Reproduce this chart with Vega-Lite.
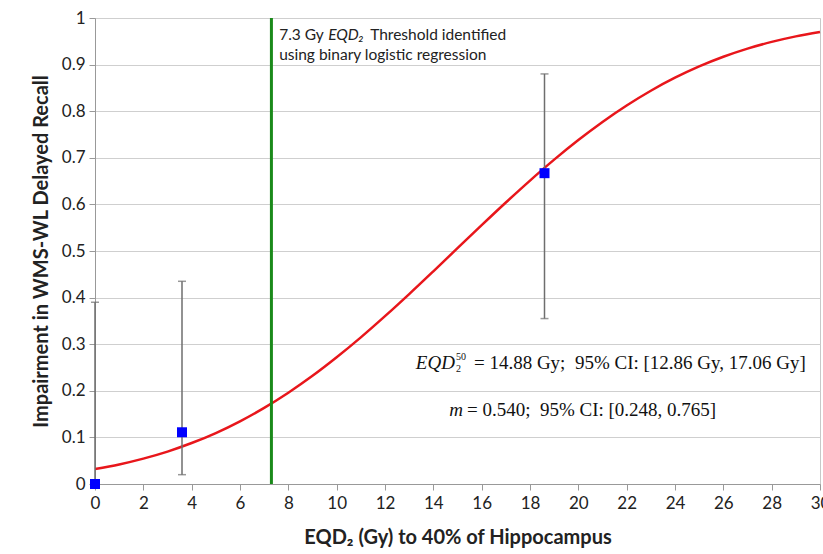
{
  "$schema": "https://vega.github.io/schema/vega-lite/v6.json",
  "autosize": {"type": "none"},
  "padding": {"left": 95, "top": 18, "right": 3, "bottom": 70},
  "width": 725,
  "height": 466,
  "background": "white",
  "config": {
    "view": {"stroke": "#c8c8c8"},
    "axis": {"labelFont": "Lato", "titleFont": "Lato", "labelColor": "#222", "titleColor": "#222", "domainColor": "#999", "tickColor": "#999"}
  },
  "datasets": {
    "curve": [
      {"x": 0, "p": 0.032}, {"x": 1, "p": 0.042}, {"x": 2, "p": 0.0545}, {"x": 3, "p": 0.0696},
      {"x": 4, "p": 0.0879}, {"x": 5, "p": 0.1094}, {"x": 6, "p": 0.1346}, {"x": 7, "p": 0.1634},
      {"x": 8, "p": 0.1959}, {"x": 9, "p": 0.2321}, {"x": 10, "p": 0.2719}, {"x": 11, "p": 0.3146},
      {"x": 12, "p": 0.3601}, {"x": 13, "p": 0.4075}, {"x": 14, "p": 0.4564}, {"x": 15, "p": 0.506},
      {"x": 16, "p": 0.5554}, {"x": 17, "p": 0.604}, {"x": 18, "p": 0.6511}, {"x": 19, "p": 0.696},
      {"x": 20, "p": 0.738}, {"x": 21, "p": 0.7769}, {"x": 22, "p": 0.8122}, {"x": 23, "p": 0.8439},
      {"x": 24, "p": 0.8718}, {"x": 25, "p": 0.8961}, {"x": 26, "p": 0.9168}, {"x": 27, "p": 0.9343},
      {"x": 28, "p": 0.9487}, {"x": 29, "p": 0.9606}, {"x": 30, "p": 0.9701}
    ],
    "obs": [
      {"x": 0, "p": 0.0, "lo": 0.0, "hi": 0.39},
      {"x": 3.6, "p": 0.111, "lo": 0.02, "hi": 0.435},
      {"x": 18.6, "p": 0.667, "lo": 0.355, "hi": 0.88}
    ],
    "caps": [
      {"x": 0, "c": 0.39},
      {"x": 3.6, "c": 0.02}, {"x": 3.6, "c": 0.435},
      {"x": 18.6, "c": 0.355}, {"x": 18.6, "c": 0.88}
    ],
    "threshold": [{"x": 7.3}],
    "anchors": [
      {"x": 7.62, "y": 0.963, "l1": "7.3 Gy", "e": "EQD₂", "r1": "Threshold identified"},
      {"x": 7.62, "y": 0.92, "l1": "using binary logistic regression", "e": "", "r1": ""}
    ],
    "formula1": [{"x": 15.68, "y": 0.26, "a": "EQD", "sub": "2", "sup": "50", "t": "= 14.88 Gy;\u00a0\u00a095% CI: [12.86 Gy, 17.06 Gy]"}],
    "formula2": [{"x": 15.39, "y": 0.159, "a": "m", "t": "= 0.540;\u00a0\u00a095% CI: [0.248, 0.765]"}]
  },
  "layer": [
    {
      "data": {"name": "curve"},
      "mark": {"type": "line", "color": "#e8161b", "strokeWidth": 2.5, "interpolate": "monotone"},
      "encoding": {
        "x": {
          "field": "x", "type": "quantitative",
          "scale": {"domain": [0, 30], "nice": false},
          "axis": {
            "title": "EQD₂ (Gy) to 40% of Hippocampus",
            "titleFontSize": 20, "titleFontWeight": "bold", "titlePadding": 16,
            "labelFontSize": 17, "labelPadding": 5,
            "grid": false,
            "values": [0,0.5,1,1.5,2,2.5,3,3.5,4,4.5,5,5.5,6,6.5,7,7.5,8,8.5,9,9.5,10,10.5,11,11.5,12,12.5,13,13.5,14,14.5,15,15.5,16,16.5,17,17.5,18,18.5,19,19.5,20,20.5,21,21.5,22,22.5,23,23.5,24,24.5,25,25.5,26,26.5,27,27.5,28,28.5,29,29.5,30],
            "labelExpr": "datum.value % 2 === 0 ? datum.label : ''",
            "labelOverlap": false,
            "labelFlush": false,
            "tickSize": {"condition": {"test": "datum.value % 2 === 0", "value": 6}, "value": 4}
          }
        },
        "y": {
          "field": "p", "type": "quantitative",
          "scale": {"domain": [0, 1], "nice": false},
          "axis": {
            "title": "Impairment in WMS-WL Delayed Recall",
            "titleFontSize": 20, "titleFontWeight": "bold", "titlePadding": 10,
            "labelFontSize": 17, "labelPadding": 4, "format": "~g",
            "values": [0,0.1,0.2,0.3,0.4,0.5,0.6,0.7,0.8,0.9,1],
            "grid": true, "gridColor": "#cfcfcf", "tickSize": 6
          }
        }
      }
    },
    {
      "data": {"name": "threshold"},
      "mark": {"type": "rule", "color": "#1a8a1a", "strokeWidth": 3},
      "encoding": {"x": {"field": "x", "type": "quantitative"}}
    },
    {
      "data": {"name": "obs"},
      "mark": {"type": "rule", "color": "#6e6e6e", "strokeWidth": 1.5},
      "encoding": {
        "x": {"field": "x", "type": "quantitative"},
        "y": {"field": "lo", "type": "quantitative"},
        "y2": {"field": "hi"}
      }
    },
    {
      "data": {"name": "caps"},
      "mark": {"type": "tick", "orient": "horizontal", "color": "#6e6e6e", "size": 8, "thickness": 1.5},
      "encoding": {
        "x": {"field": "x", "type": "quantitative"},
        "y": {"field": "c", "type": "quantitative"}
      }
    },
    {
      "data": {"name": "obs"},
      "mark": {"type": "square", "color": "#0000ff", "opacity": 1, "filled": true, "size": 100},
      "encoding": {
        "x": {"field": "x", "type": "quantitative"},
        "y": {"field": "p", "type": "quantitative"}
      }
    },
    {
      "data": {"name": "anchors"},
      "mark": {"type": "text", "align": "left", "baseline": "middle", "font": "Lato", "fontSize": 15.5, "color": "#222"},
      "encoding": {
        "x": {"field": "x", "type": "quantitative"},
        "y": {"field": "y", "type": "quantitative"},
        "text": {"field": "l1"}
      }
    },
    {
      "data": {"name": "anchors"},
      "mark": {"type": "text", "align": "left", "baseline": "middle", "font": "Lato", "fontSize": 15.5, "fontStyle": "italic", "color": "#222", "dx": 49},
      "encoding": {
        "x": {"field": "x", "type": "quantitative"},
        "y": {"field": "y", "type": "quantitative"},
        "text": {"field": "e"}
      }
    },
    {
      "data": {"name": "anchors"},
      "mark": {"type": "text", "align": "left", "baseline": "middle", "font": "Lato", "fontSize": 15.5, "color": "#222", "dx": 91},
      "encoding": {
        "x": {"field": "x", "type": "quantitative"},
        "y": {"field": "y", "type": "quantitative"},
        "text": {"field": "r1"}
      }
    },
    {
      "data": {"name": "formula1"},
      "mark": {"type": "text", "align": "left", "baseline": "middle", "font": "Liberation Serif", "fontSize": 19, "color": "#111"},
      "encoding": {
        "x": {"field": "x", "type": "quantitative"},
        "y": {"field": "y", "type": "quantitative"},
        "text": {"field": "t"}
      }
    },
    {
      "data": {"name": "formula1"},
      "mark": {"type": "text", "align": "right", "baseline": "middle", "font": "Liberation Serif", "fontSize": 19, "fontStyle": "italic", "color": "#111", "dx": -19},
      "encoding": {
        "x": {"field": "x", "type": "quantitative"},
        "y": {"field": "y", "type": "quantitative"},
        "text": {"field": "a"}
      }
    },
    {
      "data": {"name": "formula1"},
      "mark": {"type": "text", "align": "left", "baseline": "middle", "font": "Liberation Serif", "fontSize": 10, "color": "#111", "dx": -18, "dy": 6},
      "encoding": {
        "x": {"field": "x", "type": "quantitative"},
        "y": {"field": "y", "type": "quantitative"},
        "text": {"field": "sub"}
      }
    },
    {
      "data": {"name": "formula1"},
      "mark": {"type": "text", "align": "left", "baseline": "middle", "font": "Liberation Serif", "fontSize": 10, "color": "#111", "dx": -18, "dy": -6},
      "encoding": {
        "x": {"field": "x", "type": "quantitative"},
        "y": {"field": "y", "type": "quantitative"},
        "text": {"field": "sup"}
      }
    },
    {
      "data": {"name": "formula2"},
      "mark": {"type": "text", "align": "left", "baseline": "middle", "font": "Liberation Serif", "fontSize": 19, "color": "#111"},
      "encoding": {
        "x": {"field": "x", "type": "quantitative"},
        "y": {"field": "y", "type": "quantitative"},
        "text": {"field": "t"}
      }
    },
    {
      "data": {"name": "formula2"},
      "mark": {"type": "text", "align": "right", "baseline": "middle", "font": "Liberation Serif", "fontSize": 19, "fontStyle": "italic", "color": "#111", "dx": -4},
      "encoding": {
        "x": {"field": "x", "type": "quantitative"},
        "y": {"field": "y", "type": "quantitative"},
        "text": {"field": "a"}
      }
    }
  ]
}
